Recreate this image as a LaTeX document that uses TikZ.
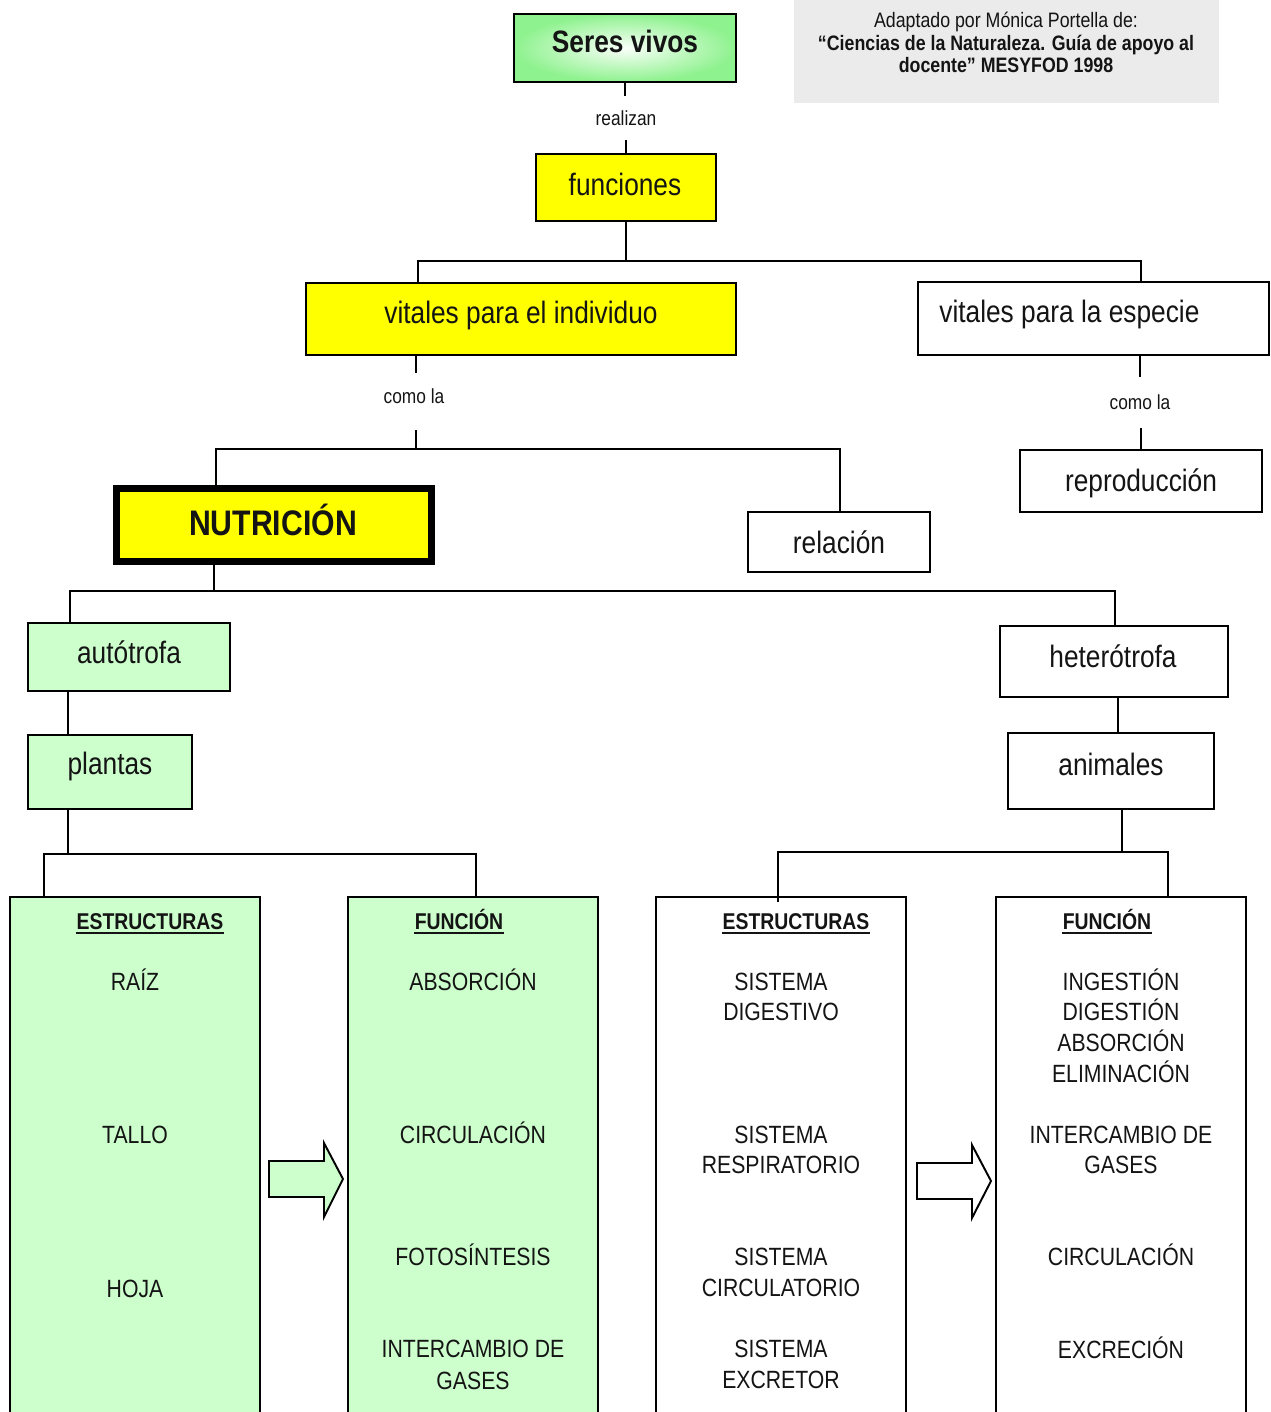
\documentclass[tikz,border=0pt]{standalone}
\usepackage{fontspec}
\setmainfont[FakeStretch=0.85]{Liberation Sans}
\usetikzlibrary{calc}
\definecolor{ylw}{HTML}{FFFF00}
\definecolor{lgreen}{HTML}{CCFFCC}
\definecolor{txt}{HTML}{141414}
\definecolor{gbox}{HTML}{EBEBEB}
\definecolor{sgreen}{HTML}{8EF28E}
\newcommand{\fmain}{\fontsize{17.6}{21}\selectfont}
\newcommand{\fbig}{\fontsize{20.2}{24}\selectfont\bfseries}
\newcommand{\fsmall}{\fontsize{11.6}{14}\selectfont}
\newcommand{\fnote}{\fontsize{11.9}{14}\selectfont}
\newcommand{\fitem}{\fontsize{14.2}{17}\selectfont}
\newcommand{\fhdr}{\fontsize{13}{16}\selectfont\bfseries}
\begin{document}
\begin{tikzpicture}[x=0.2mm,y=-0.2mm,
  sz/.style 2 args={minimum width=#1*0.2mm, minimum height=#2*0.2mm},
  box/.style={draw=black, line width=1.1pt, rectangle, inner sep=0pt, outer sep=0pt, anchor=north west},
  conn/.style={draw=black, line width=1.1pt},
  tx/.style={inner sep=0pt, text=txt, anchor=base},
  lbl/.style={inner sep=0pt, text=txt, anchor=base, font=\fsmall},
  uline/.style={draw=txt, line width=0.9pt},
  barrow/.style={draw=black, line width=1.1pt, line join=miter}]
\useasboundingbox (0,0) rectangle (1270,1412);
\clip (0,0) rectangle (1270,1412);

% note box
\node[box, draw=none, fill=gbox, sz={425}{103}] (note) at (794,0) {};
\node[tx, font=\fnote] (n1) at (1006,28) {Adaptado por Mónica Portella de:};
\node[tx, font=\fnote\bfseries] (n2) at (1006,51) {“Ciencias de la Naturaleza. Guía de apoyo al};
\node[tx, font=\fnote\bfseries] (n3) at (1006,73) {docente” MESYFOD 1998};

% boxes
\node[box, sz={222}{68}, shading=radial, inner color=white!95!sgreen, outer color=sgreen] (seres) at (514,14) {};
\node[box, fill=ylw, sz={180}{67}] (funciones) at (536,154) {};
\node[box, fill=ylw, sz={430}{72}] (indiv) at (306,283) {};
\node[box, fill=white, sz={351}{73}] (especie) at (918,282) {};
\node[box, fill=ylw, line width=3.97pt, sz={315}{73}] (nutri) at (116.5,488.5) {};
\node[box, sz={182}{60}] (relacion) at (748,512) {};
\node[box, sz={242}{62}] (reprod) at (1020,450) {};
\node[box, fill=lgreen, sz={202}{68}] (auto) at (28,623) {};
\node[box, fill=lgreen, sz={164}{74}] (plantas) at (28,735) {};
\node[box, sz={228}{71}] (hetero) at (1000,626) {};
\node[box, sz={206}{76}] (animales) at (1008,733) {};
\node[box, fill=lgreen, sz={250}{540}] (g1) at (10,897) {};
\node[box, fill=lgreen, sz={250}{540}] (g2) at (348,897) {};
\node[box, sz={250}{540}] (w1) at (656,897) {};
\node[box, sz={250}{540}] (w2) at (996,897) {};

% box texts
\node[tx, font=\fmain\bfseries] (tseres) at (625,53) {Seres vivos};
\node[tx, font=\fmain] (tfun) at (625,195) {funciones};
\node[tx, font=\fmain] (tind) at (521,323) {vitales para el individuo};
\node[tx, font=\fmain, anchor=base west] (tesp) at (939,322) {vitales para la especie};
\node[tx, font=\fbig] (tnut) at (273,535) {NUTRICIÓN};
\node[tx, font=\fmain] (trel) at (839,553) {relación};
\node[tx, font=\fmain] (trep) at (1141,491) {reproducción};
\node[tx, font=\fmain] (taut) at (129,663) {autótrofa};
\node[tx, font=\fmain] (tpla) at (110,774) {plantas};
\node[tx, font=\fmain] (thet) at (1113,667) {heterótrofa};
\node[tx, font=\fmain] (tani) at (1111,775) {animales};

% labels
\node[lbl] (lreal) at (626,125) {realizan};
\node[lbl] (lcomoA) at (414,403) {como la};
\node[lbl] (lcomoB) at (1140,409) {como la};

% connectors
\draw[conn] (seres.south) -- ++(0,14);
\draw[conn] (funciones.north) -- ++(0,-14);
\draw[conn] (funciones.south) -- ++(0,40) coordinate (j1);
\draw[conn] ($(indiv.north west)+(112,0)$) |- (j1) -| ($(especie.north west)+(223,0)$);
\draw[conn] ($(indiv.south west)+(110,0)$) -- ++(0,18);
\draw[conn] ($(indiv.south west)+(110,75)$) -- ++(0,19) coordinate (j2);
\draw[conn] ($(nutri.north west)+(99.5,0)$) |- (j2) -| ($(relacion.north west)+(92,0)$);
\draw[conn] ($(especie.south west)+(222,0)$) -- ++(0,22);
\draw[conn] (reprod.north) -- ++(0,-22);
\draw[conn] ($(nutri.south west)+(97.5,0)$) -- ++(0,29.5) coordinate (j3);
\draw[conn] ($(auto.north west)+(42,0)$) |- (j3) -| ($(hetero.north west)+(115,0)$);
\draw[conn] ($(auto.south west)+(40,0)$) -- ($(plantas.north west)+(40,0)$);
\draw[conn] ($(plantas.south west)+(40,0)$) -- ++(0,45) coordinate (j4);
\draw[conn] ($(g1.north west)+(34,0)$) |- (j4) -| ($(g2.north west)+(128,0)$);
\draw[conn] ($(hetero.south west)+(118,0)$) -- ($(animales.north west)+(110,0)$);
\draw[conn] ($(animales.south west)+(114,0)$) -- ++(0,43) coordinate (j5);
\draw[conn] ($(w1.north west)+(122,5)$) |- (j5) -| ($(w2.north west)+(172,0)$);

% headers
\foreach \t/\x/\n in {ESTRUCTURAS/150/hg1, FUNCIÓN/459/hg2, ESTRUCTURAS/796/hw1, FUNCIÓN/1107/hw2}{
  \node[tx, font=\fhdr] (\n) at (\x,929) {\t};
  \draw[uline] ($(\n.base west)+(0,4)$) -- ($(\n.base east)+(0,4)$);
}

% items
\foreach \t/\x/\y/\n in {
  RAÍZ/135/990/a1, TALLO/135/1143/a2, HOJA/135/1297/a3,
  ABSORCIÓN/473/990/b1, CIRCULACIÓN/473/1143/b2, FOTOSÍNTESIS/473/1265/b3,
  INTERCAMBIO DE/473/1357/b4, GASES/473/1389/b5,
  SISTEMA/781/990/c1, DIGESTIVO/781/1020/c2, SISTEMA/781/1143/c3, RESPIRATORIO/781/1173/c4,
  SISTEMA/781/1265/c5, CIRCULATORIO/781/1296/c6, SISTEMA/781/1357/c7, EXCRETOR/781/1388/c8,
  INGESTIÓN/1121/990/d1, DIGESTIÓN/1121/1020/d2, ABSORCIÓN/1121/1051/d3, ELIMINACIÓN/1121/1082/d4,
  INTERCAMBIO DE/1121/1143/d5, GASES/1121/1173/d6, CIRCULACIÓN/1121/1265/d7, EXCRECIÓN/1121/1358/d8}{
  \node[tx, font=\fitem] (\n) at (\x,\y) {\t};
}

% block arrows
\draw[barrow, fill=lgreen] (269,1161) -- (324,1161) -- (324,1143) -- (343,1179) -- (324,1217) -- (324,1197) -- (269,1197) -- cycle;
\draw[barrow, fill=white] (917,1163) -- (972,1163) -- (972,1145) -- (991,1181) -- (972,1218) -- (972,1199) -- (917,1199) -- cycle;
\end{tikzpicture}
\end{document}
